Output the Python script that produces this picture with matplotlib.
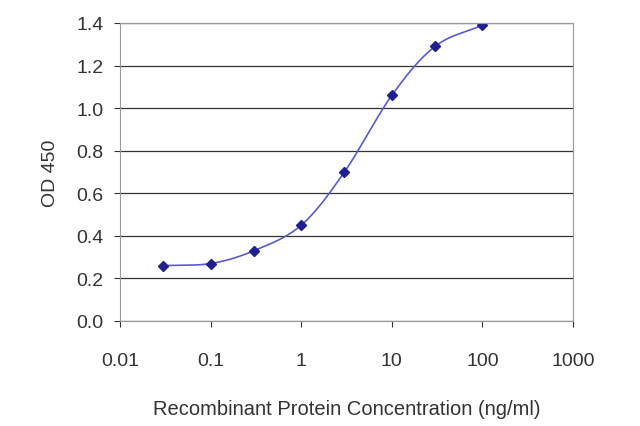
import numpy as np
import matplotlib
matplotlib.use("Agg")
import matplotlib.pyplot as plt

conc = [0.03, 0.1, 0.3, 1, 3, 10, 30, 100]
od = [0.26, 0.27, 0.33, 0.45, 0.70, 1.06, 1.29, 1.39]
xticks = [0.01, 0.1, 1, 10, 100, 1000]
xticklabels = ["0.01", "0.1", "1", "10", "100", "1000"]
yticks = [0.0, 0.2, 0.4, 0.6, 0.8, 1.0, 1.2, 1.4]

plt.rcParams["font.family"] = "Liberation Sans"
fig = plt.figure(figsize=(6.4, 4.27), dpi=100)
ax = fig.add_axes([120/640, 1-322/427, 453/640, 298/427])

# Catmull-Rom smoothing in log-x space
lx = np.log10(conc); y = np.array(od)
P = np.column_stack([lx, y])
P = np.vstack([2*P[0]-P[1], P, 2*P[-1]-P[-2]])
xs, ys = [], []
for i in range(1, len(P)-2):
    p0, p1, p2, p3 = P[i-1], P[i], P[i+1], P[i+2]
    for t in np.linspace(0, 1, 30):
        pt = 0.5*((2*p1) + (-p0+p2)*t + (2*p0-5*p1+4*p2-p3)*t**2 + (-p0+3*p1-3*p2+p3)*t**3)
        xs.append(pt[0]); ys.append(pt[1])
ax.plot(10**np.array(xs), ys, color="#5a5ad0", lw=1.2)
ax.plot(conc, od, "D", color="#1f1f8f", ms=5)

ax.set_xscale("log")
ax.set_xlim(0.01, 1000)
ax.set_ylim(0, 1.4)
ax.set_xticks(xticks); ax.set_xticklabels(xticklabels)
ax.minorticks_off()
ax.set_yticks(yticks); ax.set_yticklabels([f"{v:.1f}" for v in yticks])
ax.yaxis.grid(True, color="#333333", lw=0.9)
ax.set_axisbelow(True)
for s in ax.spines.values():
    s.set_color("#999999")
ax.tick_params(labelsize=14, colors="#333333", length=4)
ax.tick_params(axis="x", pad=18)
ax.tick_params(axis="y", pad=8)
ax.set_ylabel("OD 450", fontsize=14, color="#333333", labelpad=12)
ax.set_xlabel("Recombinant Protein Concentration (ng/ml)", fontsize=14.5, color="#333333", labelpad=22)
fig.savefig("out.png", dpi=100)
